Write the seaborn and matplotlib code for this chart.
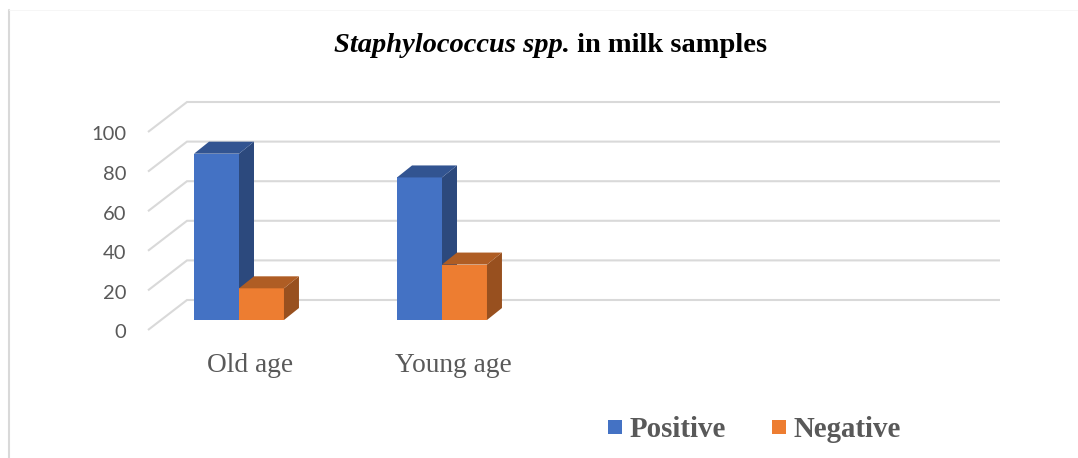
import matplotlib
matplotlib.use("Agg")
import matplotlib.pyplot as plt
from matplotlib.patches import Polygon, Rectangle
from matplotlib.lines import Line2D
import matplotlib.colors as mcolors
import pandas as pd
import seaborn as sns

# ---- data -------------------------------------------------------------
groups = ["Old age", "Young age"]
outcomes = ["Positive", "Negative"]
positive = [84, 72]
negative = [16, 28]
yticks = [0, 20, 40, 60, 80, 100]
title_italic = "Staphylococcus spp."
title_rest = " in milk samples"
colors = {"Positive": "#4472C4", "Negative": "#ED7D31"}

df = pd.DataFrame({
    "group": groups * 2,
    "outcome": ["Positive"] * len(groups) + ["Negative"] * len(groups),
    "percent": positive + negative,
})

# ---- figure / plane of the bars (pixel geometry) ----------------------
sns.set_theme(style="white")
W, H = 1078, 458
fig = plt.figure(figsize=(W / 100, H / 100), dpi=100)
fig.patch.set_facecolor("white")

px_left, px_right, px_base, px_top = 161, 974, 320, 122
ax = fig.add_axes([px_left / W, (H - px_base) / H,
                   (px_right - px_left) / W, (px_base - px_top) / H])

sns.barplot(data=df, x="group", y="percent", hue="outcome",
            order=groups, hue_order=outcomes, palette=colors,
            width=0.443, gap=0, saturation=1, linewidth=0,
            errorbar=None, legend=False, ax=ax)

x_unit_px = 203.0
x0 = -78 / x_unit_px
x1 = x0 + (px_right - px_left) / x_unit_px
ax.set_xlim(x0, x1)
ax.set_ylim(0, 100)
ax.axis("off")

ux = 1.0 / x_unit_px                 # data units per pixel (x)
uy = 100.0 / (px_base - px_top)      # data units per pixel (y)

# depth offsets for the pseudo-3D look
bar_dx, bar_dy = 15 * ux, 12 * uy
wall_dx, wall_dy = 26 * ux, 20 * uy
front_dx, front_dy = -13 * ux, -10 * uy

grid_color = "#d9d9d9"
text_gray = "#595959"

# back wall gridlines with the receding floor diagonals and value labels
for v in yticks:
    ax.plot([x0 + front_dx, x0 + wall_dx, x1 + wall_dx],
            [v + front_dy, v + wall_dy, v + wall_dy],
            color=grid_color, lw=1.5, zorder=0, clip_on=False,
            solid_capstyle="butt", solid_joinstyle="miter")
    ax.text(x0 + front_dx - 22 * ux, v + front_dy - 8.5 * uy, f"{v}",
            ha="right", va="baseline", fontsize=14.5, family="Lato",
            color=text_gray, clip_on=False)


def shade(color, f):
    r, g, b = mcolors.to_rgb(color)
    return (r * f, g * f, b * f)


# extrude every bar: right side face and top face
bars = sorted(ax.patches, key=lambda p: p.get_x())
for k, p in enumerate(bars):
    x, w, h = p.get_x(), p.get_width(), p.get_height()
    z = 2 + k
    p.set_zorder(z)
    fc = p.get_facecolor()
    side = Polygon([(x + w, 0), (x + w, h), (x + w + bar_dx, h + bar_dy),
                    (x + w + bar_dx, bar_dy)],
                   closed=True, facecolor=shade(fc, 0.64), lw=0,
                   zorder=z, clip_on=False)
    top = Polygon([(x, h), (x + w, h), (x + w + bar_dx, h + bar_dy),
                   (x + bar_dx, h + bar_dy)],
                  closed=True, facecolor=shade(fc, 0.74), lw=0,
                  zorder=z, clip_on=False)
    ax.add_patch(side)
    ax.add_patch(top)

# category labels
for i, g in enumerate(groups):
    ax.text(i + 11 * ux, -52 * uy, g, ha="center", va="baseline",
            fontsize=19.7, family="Liberation Serif", color=text_gray,
            clip_on=False)

# ---- title: italic genus name followed by upright text -----------------
title_y = 1 - 52 / H
t1 = fig.text(0, title_y, title_italic, fontsize=20.5, family="Liberation Serif",
              fontweight="bold", fontstyle="italic", color="black", va="baseline")
t2 = fig.text(0, title_y, title_rest, fontsize=20.5, family="Liberation Serif",
              fontweight="bold", color="black", va="baseline")
fig.canvas.draw()
rend = fig.canvas.get_renderer()
w1 = t1.get_window_extent(rend).width
w2 = t2.get_window_extent(rend).width
start = 550.5 - (w1 + w2) / 2
t1.set_x(start / W)
t2.set_x((start + w1) / W)

# ---- legend ------------------------------------------------------------
legend_items = [("Positive", 608, 630), ("Negative", 772, 793)]
for name, sq_x, tx_x in legend_items:
    fig.patches.append(Rectangle((sq_x / W, (H - 434) / H), 14 / W, 14 / H,
                                 transform=fig.transFigure,
                                 facecolor=colors[name], lw=0))
    fig.text(tx_x / W, (H - 437) / H, name, fontsize=20.8,
             family="Liberation Serif", fontweight="bold",
             color=text_gray, va="baseline")

# ---- chart area border -------------------------------------------------
fig.add_artist(Line2D([8.5 / W, 8.5 / W], [0, (H - 10) / H],
                      transform=fig.transFigure, color="#d9d9d9", lw=1.5))
fig.add_artist(Line2D([8.5 / W, 1], [(H - 10) / H, (H - 10) / H],
                      transform=fig.transFigure, color="#f5f5f5", lw=0.6))

fig.savefig("out.png", dpi=100)
